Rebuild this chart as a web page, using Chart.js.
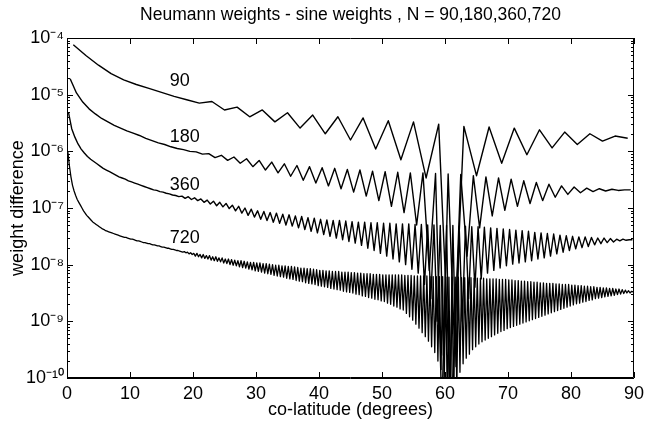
<!DOCTYPE html>
<html>
<head>
<meta charset="utf-8">
<script src="https://cdn.jsdelivr.net/npm/chart.js@4.4.1/dist/chart.umd.min.js"></script>
<style>
    html, body { margin: 0; padding: 0; background: #fff; }
</style>
</head>
<body>
<canvas id="weightChart" width="649" height="424"></canvas>
<script>
// log10 of |neumann - sine| weight difference
// N=90 nodes at 1,3,...,89 deg
const n90Log = [
    -4.12, -4.31, -4.48, -4.63, -4.74, -4.82, -4.89, -4.96, -5.03, -5.09, -5.15,
    -5.12, -5.27, -5.22, -5.39, -5.27, -5.48, -5.32, -5.59, -5.36, -5.69,
    -5.39, -5.80, -5.41, -5.96, -5.46, -6.15, -5.48, -6.47, -5.52, -10.6,
    -5.56, -6.43, -5.57, -6.21, -5.59, -6.06, -5.62, -5.94, -5.66, -5.88,
    -5.69, -5.82, -5.73, -5.77
]
// N=180 nodes at 0.5,1.5,...,89.5 deg
const n180Log = [
    -4.72, -4.97, -5.13, -5.25, -5.34, -5.42, -5.48, -5.54, -5.59, -5.64,
    -5.68, -5.72, -5.77, -5.81, -5.85, -5.88, -5.92, -5.95, -5.97, -6.00,
    -6.01, -6.05, -6.04, -6.11, -6.07, -6.16, -6.10, -6.21, -6.13, -6.27,
    -6.16, -6.33, -6.19, -6.38, -6.22, -6.44, -6.25, -6.51, -6.27, -6.56,
    -6.29, -6.61, -6.30, -6.66, -6.32, -6.72, -6.33, -6.79, -6.35, -6.87,
    -6.36, -6.97, -6.37, -7.08, -6.38, -7.30, -6.38, -8.10, -6.39, -10.6,
    -6.40, -9.40, -6.41, -7.85, -6.43, -7.35, -6.45, -7.14, -6.47, -7.04,
    -6.49, -6.97, -6.52, -6.92, -6.55, -6.87, -6.58, -6.81, -6.61, -6.76,
    -6.63, -6.73, -6.65, -6.71, -6.66, -6.70, -6.67, -6.69, -6.68, -6.68
]
// N=360 nodes at 0.25,0.75,...,89.75 deg
const n360Log = [
    -5.32, -5.60, -5.75, -5.87, -5.96, -6.03, -6.09, -6.14, -6.18, -6.22,
    -6.26, -6.30, -6.33, -6.36, -6.39, -6.42, -6.45, -6.47, -6.49, -6.52,
    -6.54, -6.56, -6.58, -6.60, -6.62, -6.64, -6.66, -6.68, -6.69, -6.71,
    -6.72, -6.74, -6.75, -6.77, -6.78, -6.80, -6.79, -6.83, -6.80, -6.85,
    -6.82, -6.87, -6.84, -6.90, -6.86, -6.93, -6.88, -6.96, -6.90, -6.98,
    -6.92, -7.01, -6.95, -7.05, -6.97, -7.09, -7.00, -7.13, -7.02, -7.16,
    -7.05, -7.20, -7.06, -7.22, -7.08, -7.25, -7.09, -7.27, -7.11, -7.30,
    -7.12, -7.32, -7.14, -7.35, -7.15, -7.38, -7.17, -7.41, -7.18, -7.44,
    -7.20, -7.47, -7.21, -7.50, -7.22, -7.53, -7.22, -7.56, -7.23, -7.59,
    -7.24, -7.62, -7.25, -7.66, -7.25, -7.71, -7.26, -7.75, -7.26, -7.80,
    -7.27, -7.85, -7.27, -7.90, -7.28, -7.95, -7.28, -8.00, -7.28, -8.08,
    -7.29, -8.15, -7.29, -8.35, -7.30, -8.60, -7.30, -9.00, -7.31, -9.60,
    -7.31, -10.6, -7.31, -9.80, -7.32, -9.00, -7.32, -8.60, -7.33, -8.40,
    -7.33, -8.25, -7.34, -8.15, -7.35, -8.10, -7.36, -8.06, -7.37, -8.02,
    -7.38, -7.99, -7.39, -7.97, -7.40, -7.95, -7.41, -7.93, -7.43, -7.90,
    -7.44, -7.88, -7.45, -7.85, -7.46, -7.81, -7.48, -7.78, -7.49, -7.75,
    -7.50, -7.72, -7.51, -7.70, -7.51, -7.68, -7.52, -7.65, -7.53, -7.63,
    -7.53, -7.61, -7.54, -7.60, -7.55, -7.58, -7.55, -7.57, -7.56, -7.56
]
// N=720 nodes at 0.125,0.375,...,89.875 deg (two degrees per row)
const n720Log = [
    -6.00, -6.25, -6.45, -6.60, -6.70, -6.78, -6.85, -6.90,
    -6.95, -7.00, -7.05, -7.09, -7.13, -7.16, -7.19, -7.22,
    -7.25, -7.27, -7.29, -7.31, -7.33, -7.35, -7.37, -7.38,
    -7.40, -7.41, -7.42, -7.43, -7.44, -7.45, -7.46, -7.47,
    -7.48, -7.49, -7.50, -7.51, -7.52, -7.52, -7.53, -7.54,
    -7.55, -7.55, -7.56, -7.57, -7.58, -7.58, -7.59, -7.60,
    -7.61, -7.61, -7.62, -7.63, -7.63, -7.64, -7.65, -7.65,
    -7.66, -7.67, -7.67, -7.68, -7.69, -7.69, -7.70, -7.71,
    -7.71, -7.72, -7.73, -7.73, -7.74, -7.75, -7.75, -7.76,
    -7.77, -7.78, -7.77, -7.79, -7.78, -7.81, -7.79, -7.82,
    -7.80, -7.85, -7.80, -7.86, -7.82, -7.88, -7.82, -7.89,
    -7.84, -7.90, -7.84, -7.92, -7.86, -7.93, -7.86, -7.94,
    -7.88, -7.95, -7.88, -7.97, -7.90, -7.98, -7.90, -8.00,
    -7.91, -8.01, -7.92, -8.02, -7.93, -8.04, -7.93, -8.05,
    -7.94, -8.06, -7.95, -8.08, -7.96, -8.09, -7.96, -8.11,
    -7.97, -8.12, -7.97, -8.13, -7.98, -8.15, -7.98, -8.16,
    -7.99, -8.17, -8.00, -8.19, -8.01, -8.20, -8.01, -8.21,
    -8.02, -8.22, -8.02, -8.24, -8.03, -8.25, -8.03, -8.26,
    -8.04, -8.28, -8.05, -8.29, -8.06, -8.30, -8.06, -8.32,
    -8.07, -8.33, -8.07, -8.34, -8.08, -8.35, -8.09, -8.37,
    -8.10, -8.38, -8.10, -8.39, -8.11, -8.40, -8.11, -8.42,
    -8.12, -8.43, -8.12, -8.44, -8.12, -8.45, -8.13, -8.47,
    -8.13, -8.48, -8.13, -8.49, -8.14, -8.50, -8.14, -8.52,
    -8.15, -8.53, -8.15, -8.55, -8.16, -8.56, -8.16, -8.58,
    -8.16, -8.59, -8.17, -8.61, -8.17, -8.62, -8.17, -8.64,
    -8.18, -8.65, -8.18, -8.68, -8.18, -8.70, -8.18, -8.73,
    -8.18, -8.75, -8.18, -8.78, -8.18, -8.80, -8.19, -8.86,
    -8.19, -8.92, -8.19, -8.98, -8.20, -9.05, -8.20, -9.12,
    -8.20, -9.20, -8.20, -9.27, -8.20, -9.35, -8.21, -9.45,
    -8.21, -9.55, -8.21, -9.70, -8.21, -9.85, -8.21, -10.1,
    -8.22, -10.6, -8.22, -10.6, -8.22, -10.6, -8.22, -10.2,
    -8.22, -9.90, -8.23, -9.75, -8.23, -9.65, -8.23, -9.58,
    -8.23, -9.50, -8.24, -9.45, -8.24, -9.40, -8.24, -9.36,
    -8.24, -9.33, -8.25, -9.30, -8.25, -9.27, -8.25, -9.24,
    -8.25, -9.21, -8.26, -9.18, -8.26, -9.16, -8.26, -9.13,
    -8.27, -9.11, -8.27, -9.09, -8.28, -9.07, -8.28, -9.05,
    -8.29, -9.03, -8.29, -9.01, -8.30, -8.99, -8.30, -8.97,
    -8.31, -8.95, -8.31, -8.93, -8.32, -8.91, -8.32, -8.89,
    -8.33, -8.87, -8.33, -8.85, -8.33, -8.83, -8.34, -8.81,
    -8.34, -8.79, -8.35, -8.77, -8.35, -8.75, -8.35, -8.73,
    -8.36, -8.71, -8.36, -8.69, -8.37, -8.68, -8.37, -8.66,
    -8.38, -8.65, -8.38, -8.63, -8.39, -8.62, -8.39, -8.60,
    -8.40, -8.59, -8.40, -8.58, -8.41, -8.57, -8.41, -8.56,
    -8.42, -8.55, -8.42, -8.54, -8.43, -8.53, -8.43, -8.52,
    -8.44, -8.51, -8.45, -8.50, -8.46, -8.50, -8.47, -8.48
]

const seriesNames = ['90', '180', '360', '720']
const seriesLogs = [n90Log, n180Log, n360Log, n720Log]
// curve label anchors: [co-latitude, log10 value]
const labelAnchors = [[16.3, -4.76], [16.3, -5.74], [16.3, -6.60], [16.3, -7.53]]
const yExponents = [-10, -9, -8, -7, -6, -5, -4]
const titleText = 'Neumann weights - sine weights , N = 90,180,360,720'

const FONT = "'Liberation Sans', Arial, Helvetica, sans-serif"
Chart.defaults.font.family = FONT
Chart.defaults.color = '#000'

const sup = { '-': '\u207B', '0': '\u2070', '1': '\u00B9', '2': '\u00B2', '3': '\u00B3', '4': '\u2074',
    '5': '\u2075', '6': '\u2076', '7': '\u2077', '8': '\u2078', '9': '\u2079' }

// grid nodes of an N-point co-latitude grid on 0..180 deg
function toPoints(logs, n) {
    let step = 180 / n
    return logs.map((v, i) => ({ x: (i + 0.5) * step, y: Math.pow(10, v) }))
}

const datasets = seriesLogs.map((logs, k) => ({
    label: 'N = ' + seriesNames[k],
    data: toPoints(logs, Number(seriesNames[k])),
    borderColor: '#000',
    borderWidth: k === 3 ? 1.3 : 1.4,
    borderJoinStyle: 'round',
    pointRadius: 0,
    tension: 0,
    fill: false
}))

const frameTicks = {
    id: 'frameTicks',
    afterDraw(chart) {
        const { ctx, chartArea: a, scales } = chart
        ctx.save()
        ctx.strokeStyle = '#000'
        ctx.lineWidth = 1
        ctx.beginPath()
        ctx.rect(a.left + 0.5, a.top + 0.5, a.right - a.left - 1, a.bottom - a.top - 1)
        for (let v = 0; v <= 90; v += 10) {
            let px = Math.round(scales.x.getPixelForValue(v)) + 0.5
            ctx.moveTo(px, a.bottom); ctx.lineTo(px, a.bottom - 6)
            ctx.moveTo(px, a.top); ctx.lineTo(px, a.top + 6)
        }
        yExponents.forEach((e) => {
            for (let m = 1; m <= 9; m++) {
                if (e === -4 && m > 1) break
                let py = Math.round(scales.y.getPixelForValue(m * Math.pow(10, e))) + 0.5
                let len = m === 1 ? 6 : 3
                ctx.moveTo(a.left, py); ctx.lineTo(a.left + len, py)
                ctx.moveTo(a.right, py); ctx.lineTo(a.right - len, py)
            }
        })
        ctx.stroke()

        ctx.fillStyle = '#000'
        ctx.textBaseline = 'middle'
        ctx.textAlign = 'left'
        ctx.font = '18px ' + FONT
        seriesNames.forEach((name, k) => {
            let [d, lg] = labelAnchors[k]
            ctx.fillText(name, scales.x.getPixelForValue(d), scales.y.getPixelForValue(Math.pow(10, lg)))
        })
        ctx.textAlign = 'center'
        ctx.font = '17.5px ' + FONT
        ctx.fillText(titleText, (a.left + a.right) / 2, 15)
        ctx.restore()
    }
}

new Chart(document.getElementById('weightChart'), {
    type: 'line',
    data: { datasets: datasets },
    options: {
        responsive: false,
        animation: false,
        layout: { padding: { top: 38, right: 9, left: 0, bottom: 0 } },
        plugins: { legend: { display: false }, tooltip: { enabled: false } },
        scales: {
            x: {
                type: 'linear',
                min: 0,
                max: 90,
                grid: { display: false, drawTicks: false },
                border: { display: true, color: '#000' },
                ticks: { stepSize: 10, maxRotation: 0, padding: 5, font: { size: 18 } },
                title: { display: true, text: 'co-latitude (degrees)', font: { size: 18 }, padding: { top: 0, bottom: 3 } },
                afterFit: (s) => { s.height = 46 }
            },
            y: {
                type: 'logarithmic',
                min: 1e-10,
                max: 1e-4,
                grid: { display: false, drawTicks: false },
                border: { display: true, color: '#000' },
                ticks: {
                    autoSkip: false,
                    padding: 3,
                    font: { size: 18 },
                    callback: function (v) {
                        let e = Math.log10(v)
                        if (Math.abs(e - Math.round(e)) > 1e-6) return ''
                        return '10' + String(Math.round(e)).split('').map(c => sup[c]).join('')
                    }
                },
                title: { display: true, text: 'weight difference', font: { size: 18 }, padding: { top: 7, bottom: 0 } },
                afterFit: (s) => { s.width = 67 }
            }
        }
    },
    plugins: [frameTicks]
})
</script>
</body>
</html>
